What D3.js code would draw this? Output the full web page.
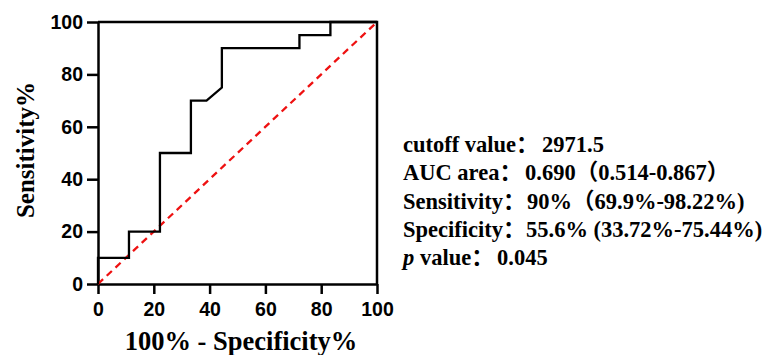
<!DOCTYPE html>
<html>
<head>
<meta charset="utf-8">
<script src="https://cdn.jsdelivr.net/npm/d3@7"></script>
<style>
  html, body { margin: 0; padding: 0; background: #fff; }
  svg { display: block; }
</style>
</head>
<body>
<svg id="chart" width="772" height="355"></svg>
<script>
// ROC 곡선 데이터 (100% - Specificity%, Sensitivity%)
const rocX = [0, 0, 11.1, 11.1, 22.2, 22.2, 33.3, 33.3, 38.9, 44.4, 44.4, 72.2, 72.2, 83.3, 83.3, 100];
const rocY = [0, 10, 10, 20, 20, 50, 50, 70, 70, 75, 90, 90, 95, 95, 100, 100];
const refX = [0, 100];
const refY = [0, 100];
const xTicks = [0, 20, 40, 60, 80, 100];
const yTicks = [0, 20, 40, 60, 80, 100];
const statLabels = ['cutoff value：', 'AUC area：', 'Sensitivity：', 'Specificity：', 'p value：'];
const statValues = ['2971.5', '0.690（0.514-0.867）', '90%（69.9%-98.22%)', '55.6% (33.72%-75.44%)', '0.045'];

const svg = d3.select('#chart');
const M = { left: 98, right: 377, top: 22, bottom: 284 };

const x = d3.scaleLinear().domain([0, 100]).range([M.left, M.right]);
const y = d3.scaleLinear().domain([0, 100]).range([M.bottom, M.top]);

const tickFont = 'Liberation Sans, Arial, sans-serif';
const serif = 'Liberation Serif, Times New Roman, Noto Sans CJK SC, serif';

// 위/오른쪽 테두리
svg.append('path')
  .attr('d', `M${M.left},${M.top}H${M.right}V${M.bottom}`)
  .attr('fill', 'none').attr('stroke', '#000').attr('stroke-width', 2.5);

// 축
const xAxis = svg.append('g')
  .attr('transform', `translate(0,${M.bottom})`)
  .call(d3.axisBottom(x).tickValues(xTicks).tickSize(10).tickPadding(6).tickSizeOuter(0));
const yAxis = svg.append('g')
  .attr('transform', `translate(${M.left},0)`)
  .call(d3.axisLeft(y).tickValues(yTicks).tickSize(11).tickPadding(4).tickSizeOuter(0));

[xAxis, yAxis].forEach(a => {
  a.select('.domain').attr('stroke-width', 2.5);
  a.selectAll('.tick line').attr('stroke-width', 2.5);
  a.selectAll('.tick text')
    .attr('font-family', tickFont)
    .attr('font-weight', '700')
    .attr('font-size', 19.5)
    .attr('fill', '#000');
});
xAxis.selectAll('.tick text').attr('dy', '0.8em');

// 기준선 (대각선)
const line = d3.line().x(d => x(d[0])).y(d => y(d[1]));
svg.append('path')
  .datum(refX.map((v, i) => [v, refY[i]]))
  .attr('d', line)
  .attr('fill', 'none')
  .attr('stroke', '#ee1111')
  .attr('stroke-width', 2.3)
  .attr('stroke-dasharray', '7,5');

// ROC
svg.append('path')
  .datum(rocX.map((v, i) => [v, rocY[i]]))
  .attr('d', line)
  .attr('fill', 'none')
  .attr('stroke', '#000')
  .attr('stroke-width', 2.3);

// 축 제목
svg.append('text')
  .attr('x', 241).attr('y', 350)
  .attr('text-anchor', 'middle')
  .attr('font-family', serif).attr('font-weight', '700').attr('font-size', 26.5)
  .text('100% - Specificity%');

svg.append('text')
  .attr('transform', `translate(34,150) rotate(-90)`)
  .attr('text-anchor', 'middle')
  .attr('font-family', serif).attr('font-weight', '700').attr('font-size', 25)
  .text('Sensitivity%');

// 통계 텍스트 — 값 시작 위치는 원본에 맞춤
const valueX = [542, 525, 527, 526, 497];
const stats = svg.append('g')
  .attr('font-family', serif).attr('font-weight', '700').attr('font-size', 22.5);
statLabels.forEach((label, i) => {
  const t = stats.append('text').attr('x', 403).attr('y', 152 + i * 28.3);
  if (label.startsWith('p ')) {
    t.append('tspan').attr('font-style', 'italic').text('p');
    t.append('tspan').text(label.slice(1));
  } else {
    t.append('tspan').text(label);
  }
  t.append('tspan').attr('x', valueX[i]).text(statValues[i]);
});
</script>
</body>
</html>
